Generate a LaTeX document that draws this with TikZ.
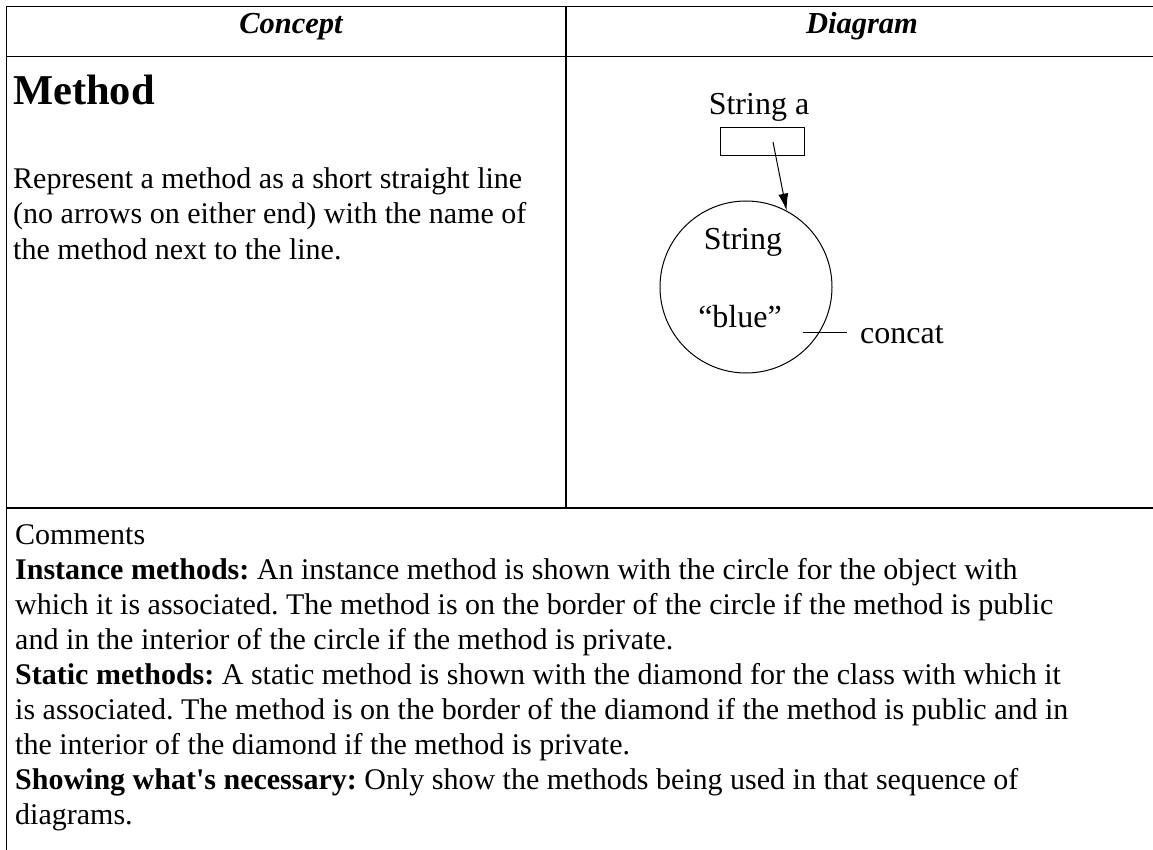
\documentclass[tikz,border=0pt]{standalone}
\usepackage{fontspec}
\setmainfont{Liberation Serif}[Ligatures=TeXOff]
\usetikzlibrary{arrows.meta}
\frenchspacing
\tikzset{
  rule/.style={line width=1.3pt, line cap=rect},
  body/.style={anchor=base west, inner sep=0pt, font=\fontsize{30}{34.9}\selectfont},
  headtext/.style={anchor=base, inner sep=0pt, font=\fontsize{30.5}{34.9}\selectfont\bfseries\itshape},
  dtext/.style={anchor=base, inner sep=0pt, font=\fontsize{32}{36}\selectfont},
  thin/.style={line width=1pt},
}
\begin{document}
\begin{tikzpicture}[x=1pt,y=-1pt]
\useasboundingbox (0,0) rectangle (1153,850);
\fill[white] (0,0) rectangle (1153,850);
% table rules
\coordinate (tl) at (6.5,6.5);
\coordinate (tr) at (1153,6.5);
\coordinate (hl) at (6.5,56.5);
\coordinate (hr) at (1153,56.5);
\coordinate (ml) at (6.5,508);
\coordinate (mr) at (1153,508);
\coordinate (vt) at (566,6.5);
\coordinate (vb) at (566,508);
\coordinate (bl) at (6.5,850);
\draw[rule] (tl) -- (tr);
\draw[rule] (hl) -- (hr);
\draw[rule] (ml) -- (mr);
\draw[rule] (tl) -- (bl);
\draw[rule] (vt) -- (vb);
% headers
\node[headtext] (hconcept) at (291,34) {Concept};
\node[headtext] (hdiagram) at (862,34) {Diagram};
% concept cell
\node[anchor=base west, inner sep=0pt, font=\fontsize{42.5}{48}\selectfont\bfseries] (title) at (13,105) {Method};
\node[body] (c1) at (13,189) {Represent a method as a short straight line};
\node[body] (c2) at (13,224) {(no arrows on either end) with the name of};
\node[body] (c3) at (13,259) {the method next to the line.};
% diagram
\node[dtext] (vname) at (759,115) {String a};
\node[draw, thin, minimum width=83.6pt, minimum height=27.6pt, inner sep=0pt] (box) at (762.5,141.5) {};
\node[draw, thin, circle, minimum size=172pt, inner sep=0pt] (obj) at (746,287) {};
\node[dtext] (otype) at (743,250) {String};
\node[dtext] (oval) at (740,327) {“blue”};
\coordinate (ref) at (773,142);
\draw[thin, -{Latex[length=17pt,width=10pt]}] (ref) -- (obj.{atan2(75.3,39)});
\coordinate (m1) at (802.7,332);
\coordinate (m2) at (847.3,332);
\draw[thin] (m1) -- (m2);
\node[dtext, anchor=base west] (mname) at (860,343) {concat};
% comments
\node[body] (k1) at (15,544) {Comments};
\node[body] (k2) at (15,579) {\textbf{Instance methods:} An instance method is shown with the circle for the object with};
\node[body] (k3) at (15,614) {which it is associated. The method is on the border of the circle if the method is public};
\node[body] (k4) at (15,649) {and in the interior of the circle if the method is private.};
\node[body] (k5) at (15,684) {\textbf{Static methods:} A static method is shown with the diamond for the class with which it};
\node[body] (k6) at (15,719) {is associated. The method is on the border of the diamond if the method is public and in};
\node[body] (k7) at (15,754) {the interior of the diamond if the method is private.};
\node[body] (k8) at (15,789) {\textbf{Showing what's necessary:} Only show the methods being used in that sequence of};
\node[body] (k9) at (15,824) {diagrams.};
\end{tikzpicture}
\end{document}
